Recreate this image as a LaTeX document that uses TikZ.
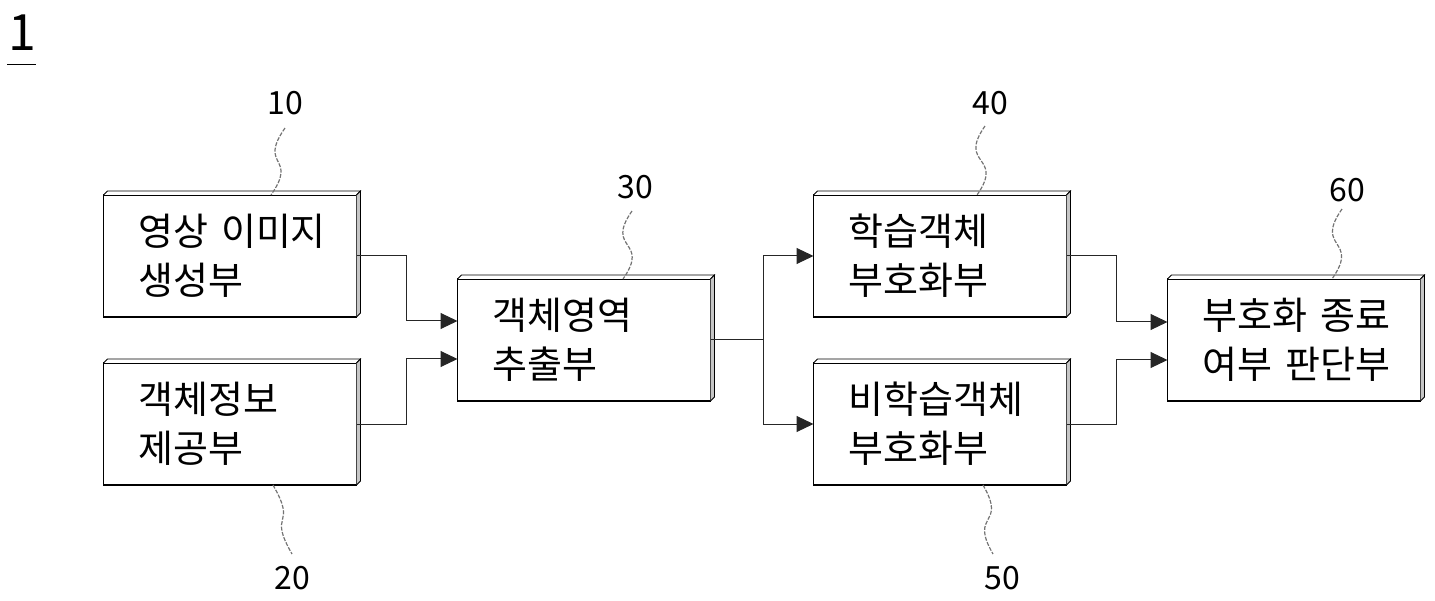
\documentclass[tikz,border=0pt]{standalone}
\usepackage{fontspec}
\setmainfont{Noto Sans CJK KR}
\usetikzlibrary{arrows.meta,calc}

\tikzset{
  unit/.style={draw=black,line width=1.2pt,fill=white,outer sep=0pt,
    minimum width=253pt,minimum height=122pt,text width=183pt,inner xsep=35pt,
    align=left,font=\fontsize{38}{49}\selectfont},
  rim/.style={draw=black,line width=0.8pt},
  link/.style={draw=black!85,line width=1pt,-{Triangle[length=17pt,width=16pt]}},
  leader/.style={draw=black!55,line width=1.2pt,dash pattern=on 4pt off 1.5pt},
  refnum/.style={font=\fontsize{32}{32}\selectfont,inner sep=0pt}
}

\begin{document}
\begin{tikzpicture}[x=1pt,y=-1pt]
\useasboundingbox (0,0) rectangle (1435,601);

\node[font=\fontsize{50}{50}\selectfont,inner sep=0pt] (fig) at (22,33) {1};
\draw[line width=1pt] ([xshift=-15pt,yshift=-13pt]fig.south)--([xshift=14pt,yshift=-13pt]fig.south);

\node[unit] (img)  at (230,256) {영상~이미지\\생성부};
\node[unit] (obj)  at (230,424) {객체정보\\제공부};
\node[unit] (ext)  at (584,340) {객체영역\\추출부};
\node[unit] (lrn)  at (940,256) {학습객체\\부호화부};
\node[unit] (nlrn) at (940,424) {비학습객체\\부호화부};
\node[unit] (dec)  at (1294,340) {부호화~종료\\여부~판단부};

\foreach\b in {img,obj,ext,lrn,nlrn,dec}{
	\draw[rim,fill=white](\b.north west)--++(4,-4)--($(\b.north east)+(4,-4)$)--(\b.north east);
	\draw[rim,fill=gray!45](\b.north east)--++(4,-4)--($(\b.south east)+(4,-4)$)--(\b.south east);}

\draw[link](img.east)--++(50,0)|-([yshift=19pt]ext.west);
\draw[link](obj.east)--++(50,0)|-([yshift=-19pt]ext.west);
\draw[link](ext.east)--++(53,0)coordinate(fork)|-(lrn.west);
\draw[link](fork)|-(nlrn.west);
\draw[link](lrn.east)--++(50,0)|-([yshift=18pt]dec.west);
\draw[link](nlrn.east)--++(50,0)|-([yshift=-20pt]dec.west);

\node[refnum] (n10) at (285,103){10};
\node[refnum] (n20) at (292,578){20};
\node[refnum] (n30) at (635,187){30};
\node[refnum] (n40) at (990,103){40};
\node[refnum] (n50) at (1002,578){50};
\node[refnum] (n60) at (1347,190){60};

\draw[leader]([yshift=-13pt]n10.south) to[out=235,in=55,looseness=1.8] ([xshift=41pt]img.north);
\draw[leader]([xshift=43pt]obj.south) to[out=-60,in=120,looseness=1.8] ([yshift=12pt]n20.north);
\draw[leader]([xshift=-3pt,yshift=-12pt]n30.south) to[out=235,in=55,looseness=1.8] ([xshift=39pt]ext.north);
\draw[leader]([xshift=-5pt,yshift=-11pt]n40.south) to[out=235,in=55,looseness=1.8] ([xshift=37pt]lrn.north);
\draw[leader]([xshift=43pt]nlrn.south) to[out=-60,in=120,looseness=1.8] ([xshift=-9pt,yshift=12pt]n50.north);
\draw[leader]([xshift=-5pt,yshift=-7pt]n60.south) to[out=235,in=55,looseness=1.8] ([xshift=38pt]dec.north);
\end{tikzpicture}
\end{document}
